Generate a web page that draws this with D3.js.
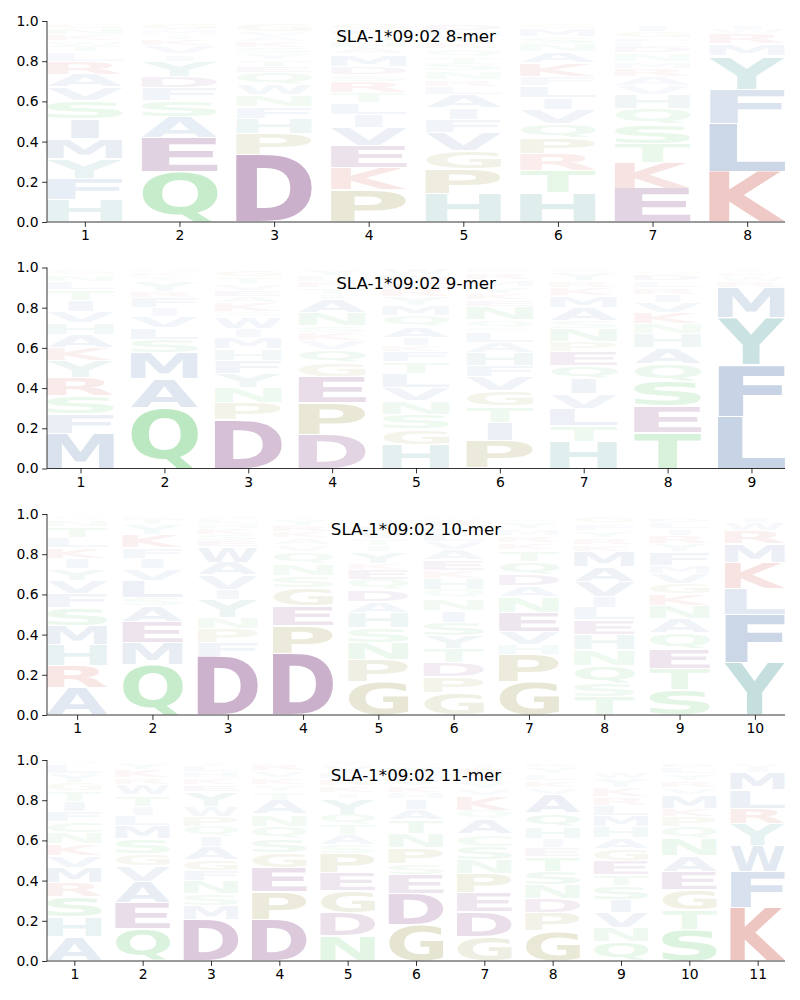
<!DOCTYPE html>
<html><head><meta charset="utf-8">
<script src="https://cdn.jsdelivr.net/npm/d3@7"></script>
<style>body{margin:0;background:#fff}</style>
</head><body>
<script>
// ---------- data ----------
const titles = ["SLA-1*09:02 8-mer", "SLA-1*09:02 9-mer", "SLA-1*09:02 10-mer", "SLA-1*09:02 11-mer"];
const yTickValues = [0, 0.2, 0.4, 0.6, 0.8, 1.0];

// each position: letters listed bottom -> top with their frequency
const logo8 = [
  "H .11 F .105 Y .10 M .10 I .10 S .09 V .065 A .065 R .065 L .045 T .03 W .025 K .03 N .03 G .028",
  "Q .25 E .17 A .105 S .08 F .065 D .055 Y .075 I .035 V .04 K .03 T .025 M .025 G .03",
  "D .335 P .105 H .075 F .06 N .06 W .05 Q .06 E .03 T .03 Y .03 S .03 K .03 A .025 V .025 G .04",
  "P .16 K .11 E .11 V .09 I .065 L .06 T .05 R .055 S .035 D .04 M .06 A .03 N .03 Q .03 F .03 G .03",
  "H .14 P .125 G .09 V .09 F .065 I .06 A .065 L .04 R .035 N .04 S .04 T .035 Q .035 K .03 Y .03 M .03 D .035",
  "H .145 T .11 R .085 P .08 Q .07 V .07 I .06 L .06 F .045 K .065 A .055 N .04 S .035 M .04 G .025",
  "E .165 K .13 T .095 S .095 Q .08 H .07 V .045 A .045 R .04 M .035 N .04 D .03 L .025 F .02 G .03 I .03",
  "K .25 L .24 F .17 Y .165 M .06 R .05 W .025 I .02"
];
const logo9 = [
  "M .175 F .095 S .09 R .09 Y .085 K .065 A .065 H .06 V .055 I .055 T .055 L .04 N .035 G .025",
  "Q .30 A .145 M .13 S .065 L .06 V .055 I .045 F .05 R .03 Y .05 T .025 K .02 N .015",
  "D .24 P .085 N .075 Y .07 F .065 H .06 M .055 I .045 W .06 S .025 K .045 A .03 E .03 V .035 T .035 G .03",
  "D .165 P .16 E .13 G .07 Q .065 V .045 K .04 S .035 N .065 A .065 I .025 T .035 R .03 L .03 Y .03",
  "H .12 G .075 S .075 N .065 V .065 L .07 T .06 F .05 K .03 I .04 A .055 Q .055 M .05 Y .045 R .04 E .035 D .035 W .03",
  "P .14 I .09 T .08 G .075 V .07 F .055 H .065 A .05 L .05 S .025 Q .04 N .065 E .035 K .03 Y .035 M .035 R .035 D .015",
  "H .135 T .08 L .085 V .07 I .075 Q .065 E .07 P .05 N .065 S .04 A .065 M .06 K .04 R .035 Y .04 F .015",
  "T .18 E .13 S .125 Q .085 A .08 H .07 N .05 K .055 V .05 I .04 R .035 L .035 D .03 G .02",
  "L .26 F .255 Y .235 M .15 R .03 W .025 K .02 I .015"
];
const logo10 = [
  "A .135 R .11 H .105 M .095 S .09 F .07 V .065 Y .06 I .05 K .05 L .05 T .055 N .035 Q .015",
  "Q .25 M .11 E .105 A .08 S .04 L .085 V .06 I .05 F .05 K .065 Y .05 T .03 R .015",
  "D .29 F .07 P .07 N .055 Y .09 I .05 V .07 A .065 W .075 E .03 S .03 K .03 H .025 L .025 G .015",
  "D .305 P .14 E .10 G .09 S .06 N .06 Q .055 V .035 A .035 K .03 R .03 Y .03 T .015",
  "G .165 P .11 N .085 S .075 H .075 A .055 D .06 Q .05 E .05 K .03 Y .055 I .03 T .035 V .035 L .035",
  "G .11 P .08 D .07 T .07 Y .065 S .065 I .06 N .06 Q .045 H .055 K .04 E .05 A .05 V .04 L .04 F .035 R .035 M .015",
  "G .165 P .135 H .05 V .065 E .095 N .08 A .055 D .055 Q .065 T .055 K .035 R .035 M .035 Y .035 S .02",
  "T .09 S .07 Q .085 N .08 H .075 E .072 L .062 I .055 V .075 A .075 M .075 K .035 R .035 Y .035 F .035 G .03",
  "S .125 T .105 E .10 Q .08 A .07 N .065 K .06 G .05 V .05 M .04 F .065 Y .04 R .04 I .035 L .035 D .02",
  "Y .26 F .24 L .13 K .13 M .09 R .065 W .04 I .025"
];
const logo11 = [
  "A .12 H .10 S .10 R .07 M .075 V .06 K .06 N .055 C .055 F .05 I .05 T .05 G .04 Y .045 L .045 Q .015",
  "Q .16 E .13 A .105 V .08 G .06 S .075 M .065 L .05 I .045 T .055 W .05 R .035 K .04 Y .03 F .01",
  "D .205 M .07 S .06 N .065 F .05 G .055 A .065 I .05 Q .05 P .05 W .05 Y .07 E .035 K .035 H .03 L .03 T .02",
  "D .205 P .14 E .12 G .075 S .07 Q .06 N .06 A .07 T .04 Y .035 K .035 V .035 R .035 L .01",
  "N .125 D .115 G .11 E .09 P .095 S .045 A .05 T .05 Q .05 Y .08 I .025 K .035 R .035 L .035 V .035 M .015",
  "G .18 D .155 E .095 S .055 P .08 N .07 T .065 A .055 I .05 H .03 K .035 V .035 L .03 Y .03 Q .02",
  "G .12 D .125 E .095 P .095 N .07 S .065 C .06 A .075 Q .045 K .07 V .035 Y .035 I .035 R .035 T .02",
  "G .15 P .09 D .07 N .07 S .065 T .075 E .045 I .045 H .06 Q .065 A .09 V .035 K .035 L .035 Y .035 R .02",
  "Q .095 N .07 V .075 I .065 S .07 T .055 E .07 G .06 A .055 H .055 M .055 L .05 R .04 K .045 Y .045 W .035",
  "S .155 T .10 G .10 E .09 A .08 N .085 Q .06 P .05 K .04 M .065 V .035 R .035 Y .035 L .035 D .02",
  "K .265 F .18 W .13 Y .11 R .075 L .09 M .085 I .03 V .02"
];
const logos = [logo8, logo9, logo10, logo11];

// ---------- styling ----------
const groupOf = {D:"acid",E:"acid",K:"base",R:"base",N:"polar",Q:"polar",S:"polar",T:"polar",C:"polar",
  G:"gp",P:"gp",H:"arom",Y:"arom",A:"hyd",V:"hyd",L:"hyd",I:"hyd",M:"hyd",F:"hyd",W:"hyd"};
const groupColor = {acid:"rgb(203,176,203)", base:"rgb(236,190,185)", polar:"rgb(188,232,193)",
  gp:"rgb(214,211,178)", arom:"rgb(188,218,218)", hyd:"rgb(190,205,225)"};

const W = 800, H = 1000;
const left = 47, right = 785, panelH = 201;
const tops = [21, 267.5, 514, 760];
const TICK = 4.9, TICKFONT = 13.9;

const svg = d3.select("body").append("svg").attr("width", W).attr("height", H)
  .style("font-family", "DejaVu Sans");

// glyph ink metrics
const cvs = document.createElement("canvas");
const ctx = cvs.getContext("2d");
const FPX = 100;
ctx.font = `bold ${FPX}px "DejaVu Sans"`;
const cache = {};
function glyph(ch) {
  if (!cache[ch]) {
    const m = ctx.measureText(ch);
    cache[ch] = {l: m.actualBoundingBoxLeft, r: m.actualBoundingBoxRight,
                 a: m.actualBoundingBoxAscent, d: m.actualBoundingBoxDescent};
  }
  return cache[ch];
}
const eRef = glyph("E");
const eWidth = eRef.l + eRef.r;

function parseCol(s) {
  const t = s.trim().split(/\s+/);
  const out = [];
  for (let i = 0; i < t.length; i += 2) out.push({ch: t[i], v: +t[i + 1]});
  return out;
}

logos.forEach((logo, pi) => {
  const n = logo.length;
  const top = tops[pi];
  const g = svg.append("g").attr("transform", `translate(0,${top})`);
  const x = d3.scaleLinear().domain([0.6, n + 0.4]).range([left, right]);
  const y = d3.scaleLinear().domain([0, 1]).range([panelH, 0]);
  const bw = (x(1.4) - x(0.6));

  const letters = g.append("g");
  logo.forEach((colStr, i) => {
    const pos = i + 1;
    let cum = 0;
    parseCol(colStr).forEach(d => {
      const y0 = y(cum + d.v), y1 = y(cum);
      cum += d.v;
      const hgt = y1 - y0;
      const pad = Math.min(0.7, hgt * 0.12);
      const yt = y0 + pad, hb = hgt - 2 * pad;
      if (hb <= 0) return;
      const m = glyph(d.ch);
      const gw = m.l + m.r, gh = m.a + m.d;
      const sx = Math.min(bw / gw, bw / eWidth);
      const x0 = x(pos) - gw * sx / 2;
      letters.append("text")
        .text(d.ch)
        .attr("font-family", "DejaVu Sans")
        .attr("font-weight", "bold")
        .attr("font-size", FPX)
        .attr("fill", groupColor[groupOf[d.ch]])
        .attr("fill-opacity", Math.min(1, d.v / 0.3))
        .attr("transform", `translate(${x0},${yt}) scale(${sx},${hb / gh}) translate(${m.l},${m.a})`);
    });
  });

  // axes
  const xAxis = d3.axisBottom(x).tickValues(d3.range(1, n + 1)).tickSize(TICK).tickPadding(3.5).tickFormat(d3.format("d"));
  const ax = g.append("g").attr("transform", `translate(0,${panelH})`).call(xAxis);
  const yAxis = d3.axisLeft(y).tickValues(yTickValues).tickSize(TICK).tickPadding(3.5).tickFormat(d3.format(".1f"));
  const ay = g.append("g").attr("transform", `translate(${left},0)`).call(yAxis);
  [ax, ay].forEach(a => {
    a.select(".domain").remove();
    a.selectAll(".tick line").attr("stroke", "#000").attr("stroke-width", 0.8);
    a.selectAll(".tick text").attr("font-family", "DejaVu Sans").attr("font-size", TICKFONT).attr("fill", "#000");
  });
  g.append("line").attr("x1", left).attr("x2", left).attr("y1", 0).attr("y2", panelH)
    .attr("stroke", "#000").attr("stroke-width", 0.8);
  g.append("line").attr("x1", left).attr("x2", right).attr("y1", panelH).attr("y2", panelH)
    .attr("stroke", "#000").attr("stroke-width", 0.8);

  g.append("text").attr("x", (left + right) / 2).attr("y", 21)
    .attr("text-anchor", "middle").attr("font-family", "DejaVu Sans")
    .attr("font-size", 16.7).attr("fill", "#000").text(titles[pi]);
});
</script>
</body></html>
